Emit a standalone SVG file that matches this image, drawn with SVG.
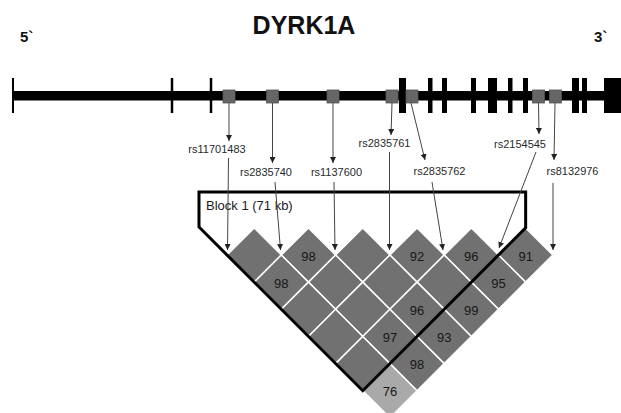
<svg xmlns="http://www.w3.org/2000/svg" xmlns:xlink="http://www.w3.org/1999/xlink" width="621" height="413" viewBox="0 0 621 413">
<style>
  text { font-family: "Liberation Sans", Arial, sans-serif; }
  .title { font-size: 25px; font-weight: bold; fill: #111; }
  .end { font-size: 15px; font-weight: bold; fill: #111; }
  .snp { font-size: 11px; fill: #2a2a2a; text-anchor: middle; }
  .num { font-size: 13px; fill: #181818; text-anchor: middle; }
  .blk { font-size: 13px; fill: #1a1a1a; }
  .bar { fill: #000; }
  .tick { stroke: #000; stroke-width: 2.5; }
  .mk { fill: #666; stroke: #555; stroke-width: 0.8; }
  .cell { fill: #717171; stroke: #fff; stroke-width: 1.5; }
  .cell.lt { fill: #a9a9a9; }
  .arr { stroke: #444; stroke-width: 1; fill: none; marker-end: url(#ah); }
  .block { fill: none; stroke: #000; stroke-width: 3; stroke-linejoin: miter; }
</style>
<defs>
  <marker id="ah" viewBox="0 0 10 10" refX="10" refY="5" markerWidth="6" markerHeight="6" markerUnits="userSpaceOnUse" orient="auto">
    <path d="M0,0 L10,5 L0,10 Z" fill="#222"/>
  </marker>
  <path id="dm" d="M0,-27.15 L27.15,0 L0,27.15 L-27.15,0 Z"/>
</defs>
<rect width="621" height="413" fill="#fff"/>

<g id="title">
  <text class="title" x="304" y="34" text-anchor="middle">DYRK1A</text>
  <text class="end" x="20" y="42">5`</text>
  <text class="end" x="594" y="42">3`</text>
</g>

<g id="gene">
  <rect class="bar" x="13" y="91" width="595" height="9.5"/>
  <line class="tick" x1="13" y1="78" x2="13" y2="113" style="stroke-width:2"/>
  <line class="tick" x1="172" y1="78" x2="172" y2="113"/>
  <line class="tick" x1="211" y1="78" x2="211" y2="113"/>
  <rect class="bar" x="399" y="78" width="7" height="35"/>
  <rect class="bar" x="428" y="78" width="4.5" height="35"/>
  <rect class="bar" x="442" y="78" width="5" height="35"/>
  <rect class="bar" x="471" y="78" width="5" height="35"/>
  <rect class="bar" x="488" y="78" width="9" height="35"/>
  <rect class="bar" x="508" y="78" width="4.5" height="35"/>
  <rect class="bar" x="523" y="78" width="5" height="35"/>
  <rect class="bar" x="572" y="78" width="7" height="35"/>
  <rect class="bar" x="582" y="78" width="5" height="35"/>
  <rect class="bar" x="604" y="78" width="17" height="35"/>
</g>

<g id="markers">
  <rect class="mk" x="223" y="90" width="12" height="13"/>
  <rect class="mk" x="266.5" y="90" width="12" height="13"/>
  <rect class="mk" x="327" y="90" width="12" height="13"/>
  <rect class="mk" x="386" y="90" width="12" height="13"/>
  <rect class="mk" x="406" y="90" width="12" height="13"/>
  <rect class="mk" x="532.5" y="90" width="12" height="13"/>
  <rect class="mk" x="549.5" y="90" width="12" height="13"/>
</g>

<g id="snp-rs11701483"><text class="snp" x="217" y="153">rs11701483</text></g>
<g id="snp-rs2835740"><text class="snp" x="266" y="176">rs2835740</text></g>
<g id="snp-rs1137600"><text class="snp" x="336.5" y="176">rs1137600</text></g>
<g id="snp-rs2835761"><text class="snp" x="384.5" y="147">rs2835761</text></g>
<g id="snp-rs2835762"><text class="snp" x="439.5" y="175">rs2835762</text></g>
<g id="snp-rs2154545"><text class="snp" x="520" y="148">rs2154545</text></g>
<g id="snp-rs8132976"><text class="snp" x="572.5" y="175">rs8132976</text></g>

<g id="ld-plot">
  <use class="cell" href="#dm" x="254.15" y="255"/>
  <use class="cell" href="#dm" x="308.45" y="255"/>
  <use class="cell" href="#dm" x="362.75" y="255"/>
  <use class="cell" href="#dm" x="417.05" y="255"/>
  <use class="cell" href="#dm" x="471.35" y="255"/>
  <use class="cell" href="#dm" x="525.65" y="255"/>
  <use class="cell" href="#dm" x="281.3" y="282.15"/>
  <use class="cell" href="#dm" x="335.6" y="282.15"/>
  <use class="cell" href="#dm" x="389.9" y="282.15"/>
  <use class="cell" href="#dm" x="444.2" y="282.15"/>
  <use class="cell" href="#dm" x="498.5" y="282.15"/>
  <use class="cell" href="#dm" x="308.45" y="309.3"/>
  <use class="cell" href="#dm" x="362.75" y="309.3"/>
  <use class="cell" href="#dm" x="417.05" y="309.3"/>
  <use class="cell" href="#dm" x="471.35" y="309.3"/>
  <use class="cell" href="#dm" x="335.6" y="336.45"/>
  <use class="cell" href="#dm" x="389.9" y="336.45"/>
  <use class="cell" href="#dm" x="444.2" y="336.45"/>
  <use class="cell" href="#dm" x="362.75" y="363.6"/>
  <use class="cell" href="#dm" x="417.05" y="363.6"/>
  <use class="cell lt" href="#dm" x="389.9" y="390.75"/>

  <text class="num" x="308.45" y="260.5">98</text>
  <text class="num" x="417.05" y="260.5">92</text>
  <text class="num" x="471.35" y="260.5">96</text>
  <text class="num" x="525.65" y="260.5">91</text>
  <text class="num" x="281.3" y="287.6">98</text>
  <text class="num" x="498.5" y="287.6">95</text>
  <text class="num" x="417.05" y="314.8">96</text>
  <text class="num" x="471.35" y="314.8">99</text>
  <text class="num" x="389.9" y="341.9">97</text>
  <text class="num" x="444.2" y="341.9">93</text>
  <text class="num" x="417.05" y="369.1">98</text>
  <text class="num" x="389.9" y="396.2">76</text>
</g>

<g id="block1">
  <polygon class="block" points="199,192 525.65,192 525.65,227.85 362.75,390.75 199,227"/>
  <text class="blk" x="206" y="210">Block 1 (71 kb)</text>
</g>

<g id="connectors">
  <line class="arr" x1="229" y1="103" x2="229" y2="141"/>
  <line class="arr" x1="272.5" y1="103" x2="272.5" y2="163"/>
  <line class="arr" x1="333" y1="103" x2="333" y2="163"/>
  <line class="arr" x1="392" y1="103" x2="391" y2="135"/>
  <line class="arr" x1="411" y1="103" x2="425" y2="160"/>
  <line class="arr" x1="538.5" y1="103" x2="539" y2="134"/>
  <line class="arr" x1="555" y1="103" x2="554" y2="160"/>

  <line class="arr" x1="228.5" y1="158" x2="227.5" y2="250"/>
  <line class="arr" x1="275" y1="182" x2="280.5" y2="250"/>
  <line class="arr" x1="334" y1="182" x2="335" y2="250"/>
  <line class="arr" x1="389.5" y1="152" x2="389.5" y2="250"/>
  <line class="arr" x1="432" y1="182" x2="443" y2="250"/>
  <line class="arr" x1="536" y1="152" x2="499" y2="248"/>
  <line class="arr" x1="553" y1="183" x2="553" y2="250"/>
</g>
</svg>
